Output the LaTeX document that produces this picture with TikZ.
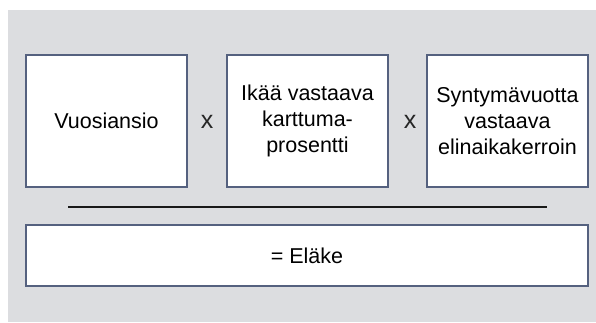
\documentclass[tikz,border=0pt]{standalone}
\usepackage{fontspec}
\setmainfont{Liberation Sans}
\definecolor{bggray}{HTML}{DCDDE0}
\definecolor{boxline}{HTML}{55617F}
\begin{document}
\begin{tikzpicture}[x=1pt,y=-1pt,
  factor/.style={draw=boxline,line width=1.6pt,fill=white,minimum width=161pt,minimum height=132pt,inner sep=0pt,align=center,font=\fontsize{21.5}{26}\selectfont},
  result/.style={draw=boxline,line width=1.6pt,fill=white,minimum width=562pt,minimum height=61pt,inner sep=0pt,font=\fontsize{21.5}{26}\selectfont},
  times/.style={font=\fontsize{25}{26}\selectfont,text=black!85}]
\useasboundingbox (0,0) rectangle (596,322);
\fill[white] (0,0) rectangle (596,322);
\fill[bggray] (8,10) rectangle (596,322);
\node[factor] (b1) at (106.5,121) {Vuosiansio};
\node[factor] (b2) at (307.5,121) {Ikää vastaava\\karttuma-\\prosentti};
\node[factor] (b3) at (507.5,121) {Syntymävuotta\\vastaava\\elinaikakerroin};
\node[times] (x1) at (207,122) {x};
\node[times] (x2) at (410,122) {x};
\coordinate (l1) at (68,207);
\coordinate (l2) at (547,207);
\draw[line width=1.6pt,black!90] (l1) -- (l2);
\node[result] (r) at (307,255.5) {= Eläke};
\end{tikzpicture}
\end{document}
